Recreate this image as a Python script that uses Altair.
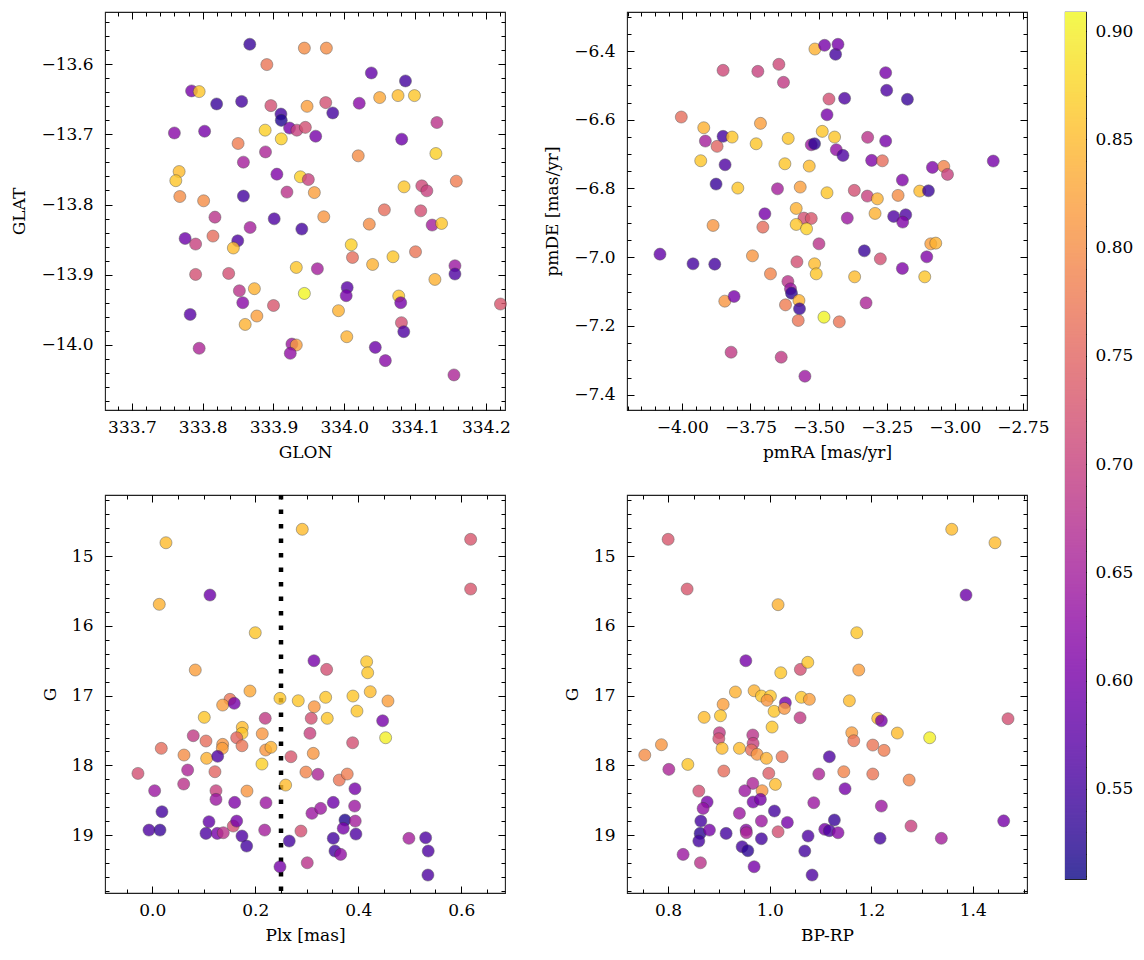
import altair as alt
import numpy as np
import pandas as pd

FONT = "DejaVu Serif"
FS = 17

# ---------------- data ----------------
# Panel 1: GLON vs GLAT
glon = [333.8665, 333.9436, 333.9747, 333.8906, 333.7843, 333.7950, 333.8197, 333.8550, 333.8963, 333.9105,
        333.9110, 333.9227, 333.9330, 333.9450, 333.9474, 333.7600, 333.8027, 333.8882, 333.9110, 333.8500,
        333.8887, 333.8575, 333.7667, 333.7620, 333.9048, 333.9380, 333.9492, 333.9577, 333.7677, 333.8013,
        333.8575, 333.9190, 333.8173, 333.9010, 333.9400, 333.8670, 333.7752, 333.7900, 333.8145, 333.8495,
        333.8433, 333.7900, 333.8367, 333.9322, 333.8518, 333.8730, 333.8566, 333.9000, 333.9436, 333.7823,
        333.8600, 333.8765, 333.7950, 333.9260, 333.9322, 333.9237,
        334.0382, 334.0864, 333.9738, 333.9837, 334.0211, 334.0500, 334.0759, 334.0991, 333.9596, 334.0811,
        334.1308, 334.0197, 334.1294, 334.0844, 334.1095, 334.1166, 334.1582, 333.9710, 334.0566, 334.0353,
        334.1080, 334.1241, 334.1374, 334.0098, 334.0116, 334.0400, 334.0688, 334.1006, 333.9620, 334.1563,
        334.1563, 334.1280, 334.0041, 334.0027, 334.0769, 334.0797, 333.9918, 334.2206, 334.0807, 334.0840,
        334.0035, 334.0438, 334.0580, 334.1549]
glat = [-13.5715, -13.5770, -13.5770, -13.6005, -13.6380, -13.6390, -13.6566, -13.6530, -13.6590, -13.6710,
        -13.6800, -13.6910, -13.6940, -13.6900, -13.6600, -13.6980, -13.6955, -13.6940, -13.7064, -13.7130,
        -13.7250, -13.7396, -13.7530, -13.7660, -13.7567, -13.7605, -13.7644, -13.7830, -13.7886, -13.7947,
        -13.7880, -13.7823, -13.8180, -13.8204, -13.8350, -13.8327, -13.8484, -13.8564, -13.8450, -13.8517,
        -13.8620, -13.8997, -13.8983, -13.8897, -13.9230, -13.9200, -13.9400, -13.9440, -13.9268, -13.9567,
        -13.9710, -13.9590, -14.0050, -13.9990, -14.0003, -14.0122,
        -13.6124, -13.6238, -13.6547, -13.6694, -13.6556, -13.6475, -13.6447, -13.6447, -13.7026, -13.7068,
        -13.6831, -13.7306, -13.7273, -13.7748, -13.7734, -13.7805, -13.7667, -13.8175, -13.8076, -13.8280,
        -13.8090, -13.8293, -13.8270, -13.8574, -13.8755, -13.8855, -13.8745, -13.8674, -13.8916, -13.8873,
        -13.8991, -13.9068, -13.9183, -13.9300, -13.9305, -13.9400, -13.9514, -13.9419, -13.9685, -13.9813,
        -13.9885, -14.0037, -14.0226, -14.0430]
c_pos = [0.54, 0.80, 0.80, 0.77, 0.60, 0.86, 0.54, 0.55, 0.72, 0.55,
         0.52, 0.60, 0.70, 0.72, 0.82, 0.62, 0.60, 0.87, 0.87, 0.78,
         0.66, 0.65, 0.85, 0.86, 0.61, 0.87, 0.70, 0.82, 0.80, 0.80,
         0.55, 0.68, 0.68, 0.56, 0.55, 0.65, 0.59, 0.70, 0.76, 0.56,
         0.85, 0.72, 0.72, 0.86, 0.68, 0.84, 0.62, 0.73, 0.905, 0.57,
         0.84, 0.82, 0.66, 0.64, 0.82, 0.63,
         0.58, 0.55, 0.72, 0.55, 0.62, 0.83, 0.85, 0.86, 0.60, 0.59,
         0.68, 0.80, 0.87, 0.86, 0.71, 0.70, 0.78, 0.81, 0.76, 0.80,
         0.72, 0.65, 0.86, 0.87, 0.76, 0.84, 0.86, 0.77, 0.65, 0.64,
         0.56, 0.84, 0.57, 0.60, 0.86, 0.60, 0.84, 0.73, 0.72, 0.56,
         0.84, 0.59, 0.62, 0.66]

# Panel 2: pmRA vs pmDE
pmra = [-3.5133, -3.4780, -3.4375, -3.4287, -3.8504, -3.7228, -3.6456, -3.6287, -3.4618, -3.4044,
        -3.4690, -4.0037, -3.9213, -3.7132, -3.4864, -3.4412, -3.9154, -3.8724, -3.8504, -3.8173,
        -3.7290, -3.6114, -3.5268, -3.5147, -3.4349, -3.4103, -3.9324, -3.8430, -3.6235, -3.5342,
        -3.8761, -3.7963, -3.6507, -3.5673, -3.4690, -3.6970, -3.5820, -3.5537, -3.5268, -3.5820,
        -3.5441, -3.8871, -3.7044, -3.4985, -4.0820, -3.9607, -3.8809, -3.7426, -3.6765, -3.5794,
        -3.5147, -3.5085, -3.6125, -3.6030, -3.5993, -3.5720, -3.5699, -3.6213, -3.5746, -3.8441,
        -3.8100, -3.4801, -3.8210, -3.6371, -3.5500, -3.2537, -3.2500, -3.1739, -3.3198, -3.2537,
        -3.3051, -3.2658, -2.8588, -3.0820, -3.0404, -3.0268, -3.1923, -3.3688, -3.3210, -3.2842,
        -3.2081, -3.1287, -3.0967, -3.2926, -3.3945, -3.2243, -3.1801, -3.1912, -3.3320, -3.2732,
        -3.1923, -3.1029, -3.0882, -3.0699, -3.3676, -3.1103, -3.3257, -3.4239]
pmde = [-6.3942, -6.3834, -6.4096, -6.3805, -6.4562, -6.4592, -6.4387, -6.4911, -6.5397, -6.5377,
        -6.5854, -6.5921, -6.6233, -6.6105, -6.6338, -6.6504, -6.6620, -6.6774, -6.6483, -6.6504,
        -6.6699, -6.6543, -6.6728, -6.6699, -6.6873, -6.7037, -6.7193, -6.7310, -6.7281, -6.7348,
        -6.7872, -6.7988, -6.8009, -6.7959, -6.8125, -6.8737, -6.8580, -6.8862, -6.8871, -6.9046,
        -6.9173, -6.9075, -6.9124, -6.9610, -6.9910, -7.0192, -7.0201, -6.9959, -7.0483, -7.0134,
        -7.0192, -7.0483, -7.0705, -7.0920, -7.1045, -7.1258, -7.1502, -7.1386, -7.1840, -7.1278,
        -7.1141, -7.1744, -7.2763, -7.2908, -7.3461, -6.4631, -6.5144, -6.5406, -6.6512, -6.6620,
        -6.7182, -6.7194, -6.7202, -6.7386, -6.7357, -6.7590, -6.7755, -6.8055, -6.8221, -6.8300,
        -6.8201, -6.8076, -6.8067, -6.8725, -6.8862, -6.8812, -6.8765, -6.8978, -6.9814, -7.0047,
        -7.0326, -6.9988, -6.9610, -6.9590, -7.0570, -7.0570, -7.1328, -7.1880]
c_pm = [0.84, 0.60, 0.55, 0.60, 0.71, 0.70, 0.71, 0.69, 0.72, 0.56,
        0.60, 0.76, 0.84, 0.82, 0.86, 0.86, 0.65, 0.75, 0.55, 0.86,
        0.86, 0.86, 0.64, 0.53, 0.63, 0.56, 0.86, 0.56, 0.86, 0.85,
        0.54, 0.86, 0.65, 0.82, 0.86, 0.60, 0.84, 0.72, 0.73, 0.86,
        0.87, 0.81, 0.76, 0.68, 0.58, 0.55, 0.55, 0.81, 0.79, 0.72,
        0.85, 0.86, 0.68, 0.64, 0.53, 0.84, 0.54, 0.78, 0.77, 0.81,
        0.60, 0.905, 0.69, 0.69, 0.64, 0.60, 0.56, 0.54, 0.68, 0.60,
        0.61, 0.76, 0.60, 0.61, 0.79, 0.70, 0.61, 0.72, 0.70, 0.84,
        0.80, 0.85, 0.54, 0.84, 0.64, 0.56, 0.56, 0.61, 0.54, 0.72,
        0.61, 0.61, 0.82, 0.84, 0.85, 0.86, 0.66, 0.77]

# Panel 3: Plx vs G
plx = [0.0266, 0.2913, 0.1120, 0.0136, 0.2000, 0.0835, 0.3140, 0.3386, 0.1897, 0.2480,
       0.2835, 0.1509, 0.1367, 0.1592, 0.1010, 0.2194, 0.1748, 0.1742, 0.2136, 0.0796,
       0.1043, 0.1367, 0.1360, 0.1639, 0.1742, 0.0175, 0.0616, 0.1056, 0.1270, 0.2202,
       0.2305, 0.2693, 0.3127, 0.2130, -0.0278, 0.0687, 0.1217, 0.2984, 0.2590, 0.0046,
       0.0610, 0.1237, 0.1237, 0.1839, 0.1600, 0.2208, 0.0188, -0.0064, 0.0150, 0.1101,
       0.1043, 0.1262, 0.1379, 0.1573, 0.1639, 0.1742, 0.1833, 0.2183, 0.2660, 0.2480,
       0.2887, 0.3010, 0.3101, 0.3087, 0.3062, 0.6183, 0.6183, 0.4163, 0.4183, 0.3146,
       0.3367, 0.3398, 0.3897, 0.3975, 0.4233, 0.4577, 0.4474, 0.4532, 0.3891, 0.3217,
       0.3631, 0.3786, 0.3936, 0.3515, 0.3930, 0.3270, 0.3742, 0.3709, 0.3942, 0.3955,
       0.3515, 0.3548, 0.3658, 0.4984, 0.5309, 0.5359, 0.5353]
g_plx = [14.810, 14.617, 15.559, 15.692, 16.099, 16.633, 16.500, 16.624, 16.934, 17.039,
         17.073, 17.053, 17.135, 17.110, 17.311, 17.325, 17.454, 17.540, 17.546, 17.574,
         17.650, 17.698, 17.755, 17.603, 17.718, 17.755, 17.851, 17.898, 17.869, 17.779,
         17.740, 17.875, 17.827, 17.980, 18.114, 18.066, 18.090, 18.095, 18.281, 18.362,
         18.266, 18.362, 18.486, 18.367, 18.529, 18.534, 18.663, 18.926, 18.926, 18.806,
         18.973, 18.973, 18.964, 18.868, 18.797, 19.011, 19.155, 18.926, 19.083, 19.451,
         18.940, 19.394, 18.686, 17.325, 17.540, 14.761, 15.473, 16.514, 16.672, 17.159,
         17.024, 17.325, 17.006, 17.221, 16.944, 17.077, 17.360, 17.603, 17.675, 18.127,
         18.209, 18.123, 18.334, 18.529, 18.582, 18.615, 18.782, 18.901, 18.797, 18.983,
         19.044, 19.226, 19.274, 19.044, 19.035, 19.226, 19.570]
c_plx = [0.85, 0.85, 0.59, 0.84, 0.86, 0.82, 0.60, 0.72, 0.83, 0.86,
         0.86, 0.77, 0.82, 0.60, 0.86, 0.69, 0.85, 0.86, 0.81, 0.69,
         0.76, 0.81, 0.82, 0.75, 0.77, 0.76, 0.80, 0.84, 0.56, 0.81,
         0.84, 0.73, 0.81, 0.87, 0.72, 0.66, 0.75, 0.79, 0.85, 0.64,
         0.68, 0.70, 0.64, 0.81, 0.61, 0.64, 0.55, 0.56, 0.54, 0.58,
         0.56, 0.60, 0.68, 0.72, 0.60, 0.56, 0.55, 0.65, 0.55, 0.60,
         0.72, 0.68, 0.64, 0.72, 0.70, 0.73, 0.73, 0.86, 0.86, 0.81,
         0.86, 0.86, 0.86, 0.86, 0.85, 0.82, 0.60, 0.90, 0.72, 0.66,
         0.77, 0.78, 0.60, 0.59, 0.64, 0.64, 0.52, 0.60, 0.65, 0.56,
         0.55, 0.55, 0.63, 0.65, 0.56, 0.56, 0.56]
plx_cut = [0.25]

# Panel 4: BP-RP vs G
bprp = [0.8000, 0.8374, 1.0165, 0.9530, 1.0218, 1.0604, 1.0750, 0.9325, 0.9693, 0.9837,
        1.0014, 0.9949, 1.0087, 1.0309, 1.0289, 1.0624, 1.0781, 0.9083, 0.9030, 0.8709,
        1.0598, 1.0047, 0.9010, 0.8998, 0.9063, 0.7868, 0.7540, 0.8388, 0.8014, 0.9404,
        0.9667, 0.9673, 0.9640, 0.9752, 0.9935, 1.0244, 0.9096, 0.9982, 1.0112, 0.9850,
        1.0967, 0.8604, 0.9667, 0.9510, 0.8768, 0.8689, 0.9673, 0.9817, 1.0868, 0.9404,
        1.0093, 1.0348, 0.9837, 0.8644, 0.8630, 0.8604, 0.8813, 0.9142, 0.9535, 0.9541,
        1.0165, 0.9837, 1.0756, 1.1085, 1.1175, 0.9457, 0.9569, 0.8295, 0.8636, 0.9693,
        1.0691, 1.0835, 1.1175, 1.1274, 1.3585, 1.4437, 1.3866, 1.1715, 1.1754, 1.1569,
        1.2128, 1.2199, 1.4693, 1.1616, 1.1655, 1.2514, 1.3151, 1.2030, 1.2252, 1.1459,
        1.2030, 1.2746, 1.1484, 1.2199, 1.1346, 1.2173, 1.2783, 1.3380, 1.4608]
g_col = [14.761, 15.473, 15.697, 16.500, 16.672, 16.624, 16.523, 16.948, 16.930, 17.006,
         17.006, 17.067, 17.225, 17.102, 17.183, 17.024, 17.053, 17.125, 17.288, 17.311,
         17.317, 17.450, 17.531, 17.617, 17.755, 17.703, 17.851, 17.985, 18.056, 17.755,
         17.564, 17.684, 17.779, 17.841, 17.898, 17.875, 18.080, 18.113, 18.271, 18.362,
         18.123, 18.367, 18.257, 18.362, 18.524, 18.615, 18.524, 18.486, 18.534, 18.686,
         18.653, 18.816, 18.797, 18.797, 18.973, 19.083, 18.926, 18.973, 18.926, 18.964,
         18.950, 19.050, 19.011, 18.915, 18.935, 19.164, 19.221, 19.274, 19.394, 19.451,
         19.226, 19.570, 17.875, 18.782, 14.617, 14.810, 15.559, 16.099, 16.633, 17.073,
         17.325, 17.360, 17.331, 17.531, 17.646, 17.536, 17.603, 17.708, 17.784, 18.090,
         18.123, 18.209, 18.334, 18.582, 18.964, 19.044, 18.868, 19.044, 18.794]
c_col = [0.73, 0.73, 0.84, 0.60, 0.86, 0.72, 0.86, 0.84, 0.84, 0.86,
         0.86, 0.81, 0.86, 0.60, 0.81, 0.86, 0.82, 0.82, 0.86, 0.85,
         0.69, 0.86, 0.69, 0.72, 0.85, 0.81, 0.80, 0.86, 0.66, 0.85,
         0.68, 0.70, 0.76, 0.81, 0.84, 0.77, 0.76, 0.74, 0.85, 0.81,
         0.66, 0.72, 0.66, 0.64, 0.60, 0.63, 0.60, 0.60, 0.64, 0.64,
         0.55, 0.60, 0.64, 0.55, 0.53, 0.55, 0.60, 0.55, 0.62, 0.66,
         0.72, 0.55, 0.56, 0.60, 0.56, 0.55, 0.53, 0.64, 0.68, 0.60,
         0.55, 0.56, 0.56, 0.54, 0.85, 0.85, 0.59, 0.86, 0.82, 0.85,
         0.85, 0.60, 0.72, 0.82, 0.77, 0.85, 0.90, 0.77, 0.78, 0.79,
         0.77, 0.79, 0.60, 0.64, 0.62, 0.55, 0.70, 0.65, 0.60]

# axis tick labels / ranges
glon_ticks = [333.7, 333.8, 333.9, 334.0, 334.1, 334.2]
glat_ticks = [-14.0, -13.9, -13.8, -13.7, -13.6]
pmra_ticks = [-4.0, -3.75, -3.5, -3.25, -3.0, -2.75]
pmde_ticks = [-7.4, -7.2, -7.0, -6.8, -6.6, -6.4]
plx_ticks = [0.0, 0.2, 0.4, 0.6]
bprp_ticks = [0.8, 1.0, 1.2, 1.4]
g_ticks = [15, 16, 17, 18, 19]
cbar_ticks = [0.55, 0.60, 0.65, 0.70, 0.75, 0.80, 0.85, 0.90]

C_DOMAIN = [0.5084, 0.9088]
color_scale = alt.Scale(scheme="plasma", domain=C_DOMAIN)


def minor(lo, hi, step):
    k0 = int(np.ceil(lo / step - 1e-9))
    k1 = int(np.floor(hi / step + 1e-9))
    return [round(k * step, 6) for k in range(k0, k1 + 1)]


MAJ, MIN = 7, 4


def axis(orient, values, size, labels=False, title=None, fmt=None, pad=0, tpad=0):
    kw = dict(orient=orient, values=values, tickSize=size, offset=-size, domain=False,
              grid=False, ticks=True, tickColor="black", tickWidth=1, labels=labels,
              title=title)
    if labels:
        kw.update(format=fmt, labelPadding=pad, labelFlush=False, labelOverlap=False,
                  labelFont=FONT, labelFontSize=FS, labelColor="black")
    else:
        kw.update(maxExtent=0, minExtent=0)
    if title:
        kw.update(titlePadding=tpad, titleFont=FONT, titleFontSize=FS,
                  titleFontWeight="normal", titleColor="black")
    return alt.Axis(**kw)


def panel(df, xf, yf, xtitle, ytitle, xdom, ydom, xmaj, xmin, ymaj, ymin, xfmt, yfmt,
          yrev=False, cut=None):
    xs = alt.Scale(domain=xdom, nice=False, zero=False)
    ys = alt.Scale(domain=ydom, nice=False, zero=False, reverse=yrev)
    base = alt.Chart(df)
    pts = base.mark_circle(size=145, opacity=0.8, stroke="#3a3a3a", strokeWidth=0.5).encode(
        x=alt.X(f"{xf}:Q", scale=xs, axis=axis("bottom", xmaj, MAJ, True, xtitle, xfmt, 9, 9)),
        y=alt.Y(f"{yf}:Q", scale=ys, axis=axis("left", ymaj, MAJ, True, ytitle, yfmt, 12, 12)),
        color=alt.Color("c:Q", scale=color_scale, legend=None),
    )
    d1 = base.mark_point(opacity=0).encode(
        x=alt.X(f"{xf}:Q", scale=xs, axis=axis("top", xmaj, MAJ)),
        y=alt.Y(f"{yf}:Q", scale=ys, axis=axis("right", ymaj, MAJ)))
    d2 = base.mark_point(opacity=0).encode(
        x=alt.X(f"{xf}:Q", scale=xs, axis=axis("bottom", xmin, MIN)),
        y=alt.Y(f"{yf}:Q", scale=ys, axis=axis("left", ymin, MIN)))
    d3 = base.mark_point(opacity=0).encode(
        x=alt.X(f"{xf}:Q", scale=xs, axis=axis("top", xmin, MIN)),
        y=alt.Y(f"{yf}:Q", scale=ys, axis=axis("right", ymin, MIN)))
    layers = [d1, d2, d3]
    if cut is not None:
        rule = alt.Chart(pd.DataFrame({"cut": cut, "lo": [ydom[0]], "hi": [ydom[1]]})).mark_rule(
            color="black", strokeWidth=4.5, strokeDash=[4.5, 10]).encode(
            x=alt.X("cut:Q", scale=xs, axis=None),
            y=alt.Y("lo:Q", scale=ys, axis=None), y2="hi:Q")
        layers.append(rule)
    layers.append(pts)
    return alt.layer(*layers).resolve_axis(x="independent", y="independent").properties(
        width=400, height=398)


df1 = pd.DataFrame({"GLON": glon, "GLAT": glat, "c": c_pos})
df2 = pd.DataFrame({"pmRA": pmra, "pmDE": pmde, "c": c_pm})
df3 = pd.DataFrame({"Plx": plx, "G": g_plx, "c": c_plx})
df4 = pd.DataFrame({"BPRP": bprp, "G": g_col, "c": c_col})

p1 = panel(df1, "GLON", "GLAT", "GLON", "GLAT", [333.662, 334.227], [-14.093, -13.5255],
           glon_ticks, minor(333.662, 334.227, 0.02), glat_ticks, minor(-14.093, -13.5255, 0.02),
           ".1f", ".1f")
p2 = panel(df2, "pmRA", "pmDE", "pmRA [mas/yr]", "pmDE [mas/yr]", [-4.203, -2.735], [-7.4445, -6.2865],
           pmra_ticks, minor(-4.203, -2.735, 0.05), pmde_ticks, minor(-7.4445, -6.2865, 0.05),
           ".2f", ".1f")
p3 = panel(df3, "Plx", "G", "Plx [mas]", "G", [-0.0918, 0.685], [14.126, 19.827],
           plx_ticks, minor(-0.0918, 0.685, 0.05), g_ticks, minor(14.126, 19.827, 0.2),
           ".1f", "d", yrev=True, cut=plx_cut)
p4 = panel(df4, "BPRP", "G", "BP-RP", "G", [0.719, 1.5067], [14.126, 19.827],
           bprp_ticks, minor(0.719, 1.5067, 0.05), g_ticks, minor(14.126, 19.827, 0.2),
           ".1f", "d", yrev=True)

row1 = alt.hconcat(p1, p2, spacing=122, bounds="flush")
row2 = alt.hconcat(p3, p4, spacing=122, bounds="flush")
left = alt.vconcat(row1, row2, spacing=31)

# colour bar built from the same colour scale
edges = np.linspace(C_DOMAIN[0], C_DOMAIN[1], 601)
step = edges[1] - edges[0]
cb_df = pd.DataFrame({"v": edges[:-1],
                      "v2": np.minimum(edges[:-1] + 1.8 * step, C_DOMAIN[1]),
                      "x0": 0.0, "x1": 1.0})
cs = alt.Scale(domain=C_DOMAIN, nice=False, zero=False)
ux = alt.Scale(domain=[0, 1], nice=False, zero=False)
cb_rect = alt.Chart(cb_df).mark_rect().encode(
    x=alt.X("x0:Q", scale=ux, axis=None), x2="x1:Q",
    y=alt.Y("v:Q", scale=cs, axis=axis("right", cbar_ticks, 8, True, None, ".2f", 9)),
    y2="v2:Q",
    color=alt.Color("v:Q", scale=color_scale, legend=None),
)
veil_df = pd.DataFrame({"lo": [C_DOMAIN[0]], "hi": [C_DOMAIN[1]], "x0": [0.0], "x1": [1.0]})
veil = alt.Chart(veil_df).mark_rect(color="white", opacity=0.2).encode(
    x=alt.X("x0:Q", scale=ux, axis=None), x2="x1:Q",
    y=alt.Y("lo:Q", scale=cs, axis=None), y2="hi:Q")
cb_minor = alt.Chart(veil_df).mark_rect(opacity=0).encode(
    x=alt.X("x0:Q", scale=ux, axis=None), x2="x1:Q",
    y=alt.Y("lo:Q", scale=cs, axis=axis("right", minor(0.51, 0.905, 0.01), MIN)), y2="hi:Q")
cbar = alt.layer(cb_rect, veil, cb_minor).resolve_axis(y="independent").properties(
    width=21, height=867)

chart = alt.hconcat(left, cbar, spacing=14).properties(
    padding={"left": 2, "top": 2, "right": 0, "bottom": 3}, background="white"
).configure_view(stroke="#222222", strokeWidth=1.1)

chart.save("out.html", embed_options={"renderer": "svg", "actions": False})
